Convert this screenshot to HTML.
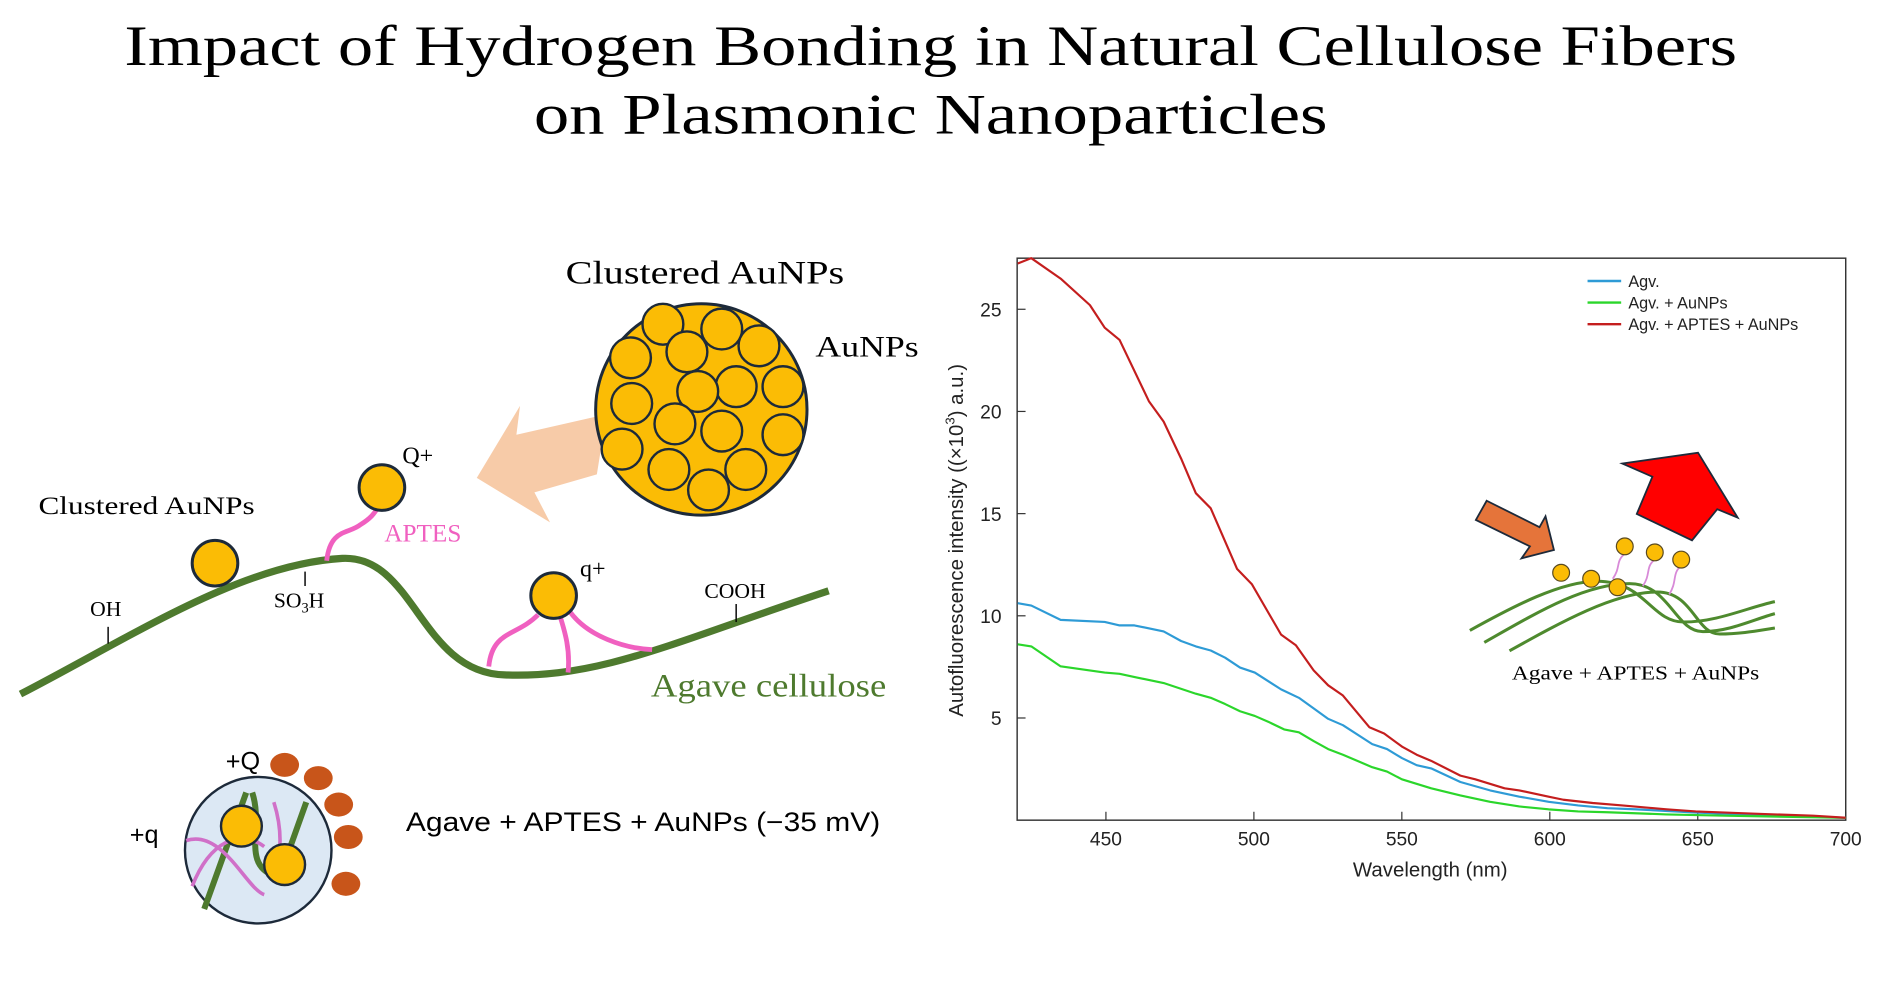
<!DOCTYPE html>
<html><head><meta charset="utf-8"><style>
html,body{margin:0;padding:0;background:#fff;}
svg{display:block;}
.serif{font-family:"Liberation Serif",serif;}
.sans{font-family:"Liberation Sans",sans-serif;}
</style></head><body>
<svg id="root" width="1883" height="983" viewBox="0 0 1568 818.6" xmlns="http://www.w3.org/2000/svg">
<g class="serif" fill="#000" text-anchor="middle">
<text x="775" y="54" font-size="48" textLength="1343" lengthAdjust="spacingAndGlyphs">Impact of Hydrogen Bonding in Natural Cellulose Fibers</text>
<text x="775" y="111" font-size="48" textLength="661" lengthAdjust="spacingAndGlyphs">on Plasmonic Nanoparticles</text>
</g>

<g>
<text x="587" y="236" class="serif" font-size="27" text-anchor="middle" textLength="232" lengthAdjust="spacingAndGlyphs">Clustered AuNPs</text>
<text x="679" y="297" class="serif" font-size="25" textLength="86" lengthAdjust="spacingAndGlyphs">AuNPs</text>
<polygon points="505,345 497,395 445,410 458,435 397,398 433,338 430,362" fill="#F7CBA8"/>
<circle cx="584" cy="341" r="88" fill="#FBBC05" stroke="#1d2a3a" stroke-width="2.5"/>
<g id="cluster" fill="#FBBC05" stroke="#1d2a3a" stroke-width="2"></g>

<path d="M17,578 C110,530 200,470 285,465 C345,462 350,560 420,562 C500,565 560,535 690,492" fill="none" stroke="#4E7A2E" stroke-width="6"/>
<g stroke="#000" stroke-width="1.2">
<line x1="90" y1="522" x2="90" y2="536"/><line x1="254" y1="476" x2="254" y2="488"/><line x1="613" y1="503" x2="613" y2="518"/>
</g>
<g class="serif" font-size="18" fill="#000" text-anchor="middle">
<text x="88" y="513">OH</text>
<text x="249" y="506">SO<tspan font-size="12" dy="4">3</tspan><tspan dy="-4">H</tspan></text>
<text x="612" y="498">COOH</text>
</g>
<text x="32" y="428" class="serif" font-size="21" textLength="180" lengthAdjust="spacingAndGlyphs">Clustered AuNPs</text>
<path d="M272,467 C275,440 290,445 300,437 C308,432 312,428 316,420" fill="none" stroke="#F060C0" stroke-width="4"/>
<path d="M407,555 C410,525 430,530 448,512 M466,512 C470,525 475,540 473,560 M475,510 C490,530 520,540 543,541" fill="none" stroke="#F060C0" stroke-width="4"/>
<circle cx="179" cy="469" r="19" fill="#FBBC05" stroke="#1d2a3a" stroke-width="2.5"/>
<circle cx="318" cy="406" r="19" fill="#FBBC05" stroke="#1d2a3a" stroke-width="2.5"/>
<circle cx="461" cy="496" r="19" fill="#FBBC05" stroke="#1d2a3a" stroke-width="2.5"/>
<text x="335" y="386" class="serif" font-size="20">Q+</text>
<text x="483" y="480" class="serif" font-size="20">q+</text>
<text x="320" y="451" class="serif" font-size="21" fill="#F060C0">APTES</text>
<text x="542" y="580" class="serif" font-size="27" fill="#4E7A2E" textLength="196" lengthAdjust="spacingAndGlyphs">Agave cellulose</text>
</g>

<g>
<circle cx="215" cy="708" r="61" fill="#DCE8F4" stroke="#1d2a3a" stroke-width="2"/>
<path d="M170,757 L205,660 M210,660 C220,690 200,720 230,730 M255,668 L240,710" fill="none" stroke="#4E7A2E" stroke-width="5"/>
<path d="M155,700 C185,690 205,740 220,745 M160,738 C175,700 200,690 220,705 M228,668 C235,690 235,710 228,730" fill="none" stroke="#D070C8" stroke-width="3"/>
<circle cx="201" cy="688" r="17" fill="#FBBC05" stroke="#1d2a3a" stroke-width="2"/>
<circle cx="237" cy="720" r="17" fill="#FBBC05" stroke="#1d2a3a" stroke-width="2"/>
<g fill="#C8551A">
<ellipse cx="237" cy="637" rx="12" ry="10"/><ellipse cx="265" cy="648" rx="12" ry="10"/><ellipse cx="282" cy="670" rx="12" ry="10"/><ellipse cx="290" cy="697" rx="12" ry="10"/><ellipse cx="288" cy="736" rx="12" ry="10"/>
</g>
<text x="188" y="641" class="sans" font-size="21">+Q</text>
<text x="108" y="702" class="sans" font-size="21">+q</text>
<text x="338" y="692" class="sans" font-size="22" textLength="395" lengthAdjust="spacingAndGlyphs">Agave + APTES + AuNPs (−35 mV)</text>
</g>

<g id="chart"></g>

<g>
<polygon points="1238,417 1282,439 1287,430 1294,458 1267,465 1274,455 1229,433" fill="#E5743A" stroke="#1d2a3a" stroke-width="1.5"/>
<polygon points="1351,386 1414,377 1447,431 1430,424 1409,450 1363,428 1376,397" fill="#FF0000" stroke="#1d2a3a" stroke-width="1.5"/>
<g fill="none" stroke="#4E8A2E" stroke-width="2.5">
<path d="M1224,525 C1260,505 1300,484 1330,484 C1370,484 1375,518 1402,518 C1430,518 1455,506 1478,501"/>
<path d="M1236,535 C1280,510 1320,486 1357,486 C1390,486 1395,526 1418,526 C1440,526 1460,516 1478,511"/>
<path d="M1257,542 C1300,518 1345,493 1380,493 C1410,493 1412,528 1432,528 C1450,528 1465,525 1478,523"/>
</g>
<g fill="none" stroke="#D88AD8" stroke-width="1.5">
<path d="M1353,461 C1345,468 1350,472 1343,482"/><path d="M1378,466 C1370,472 1375,478 1368,488"/><path d="M1400,471 C1392,478 1397,484 1390,495"/>
</g>
<g fill="#FBBC05" stroke="#5a4a20" stroke-width="1">
<circle cx="1300" cy="477" r="7"/><circle cx="1325" cy="482" r="7"/><circle cx="1347" cy="489" r="7"/><circle cx="1353" cy="455" r="7"/><circle cx="1378" cy="460" r="7"/><circle cx="1400" cy="466" r="7"/>
</g>
<text x="1362" y="566" class="serif" font-size="17" text-anchor="middle" textLength="206" lengthAdjust="spacingAndGlyphs">Agave + APTES + AuNPs</text>
</g>
</svg>
<script>
const blueNm = [420.2,424.8,434.7,449.6,454.6,459.6,469.5,475.4,480.4,485.4,490.3,495.3,500.3,509.2,515.2,520.2,525.1,530.1,540,545,550,555,559.9,569.8,579.8,589.7,599.6,609.6,619.5,629.4,649.3,669.2,700];
const blueVal = [10.62,10.5,9.8,9.7,9.53,9.53,9.24,8.77,8.5,8.3,7.95,7.47,7.22,6.4,5.99,5.47,4.96,4.65,3.72,3.48,3.04,2.69,2.53,1.87,1.46,1.15,0.9,0.72,0.59,0.53,0.37,0.26,0.12];
const greenNm = [420.2,424.8,434.7,449.6,454.6,460.5,469.5,480.4,485.4,490.3,495.3,500.3,505.2,510.2,515.2,520.2,525.1,530.1,540,545,550,559.9,569.8,579.8,589.7,599.6,609.6,619.5,639.4,659.3,700];
const greenVal = [8.6,8.5,7.53,7.22,7.16,6.98,6.71,6.19,5.99,5.68,5.33,5.1,4.79,4.44,4.3,3.87,3.48,3.2,2.59,2.38,2.0,1.56,1.21,0.9,0.67,0.53,0.43,0.39,0.28,0.22,0.12];
const redNm = [420.2,424.8,434.7,444.6,449.6,454.6,464.5,469.5,475.4,480.4,485.4,494.3,499.3,509.2,514.2,520.2,525.1,530.1,539,544,550,555,559.9,569.8,574.8,584.7,589.7,599.6,604.6,614.5,624.5,639.4,649.3,669.2,689,700];
const redVal = [27.24,27.5,26.5,25.2,24.1,23.5,20.5,19.5,17.7,16.0,15.26,12.3,11.55,9.08,8.56,7.33,6.6,6.1,4.55,4.24,3.6,3.2,2.9,2.18,2.0,1.56,1.46,1.15,1.0,0.84,0.72,0.53,0.43,0.32,0.22,0.12];
const xTicks = [450,500,550,600,650,700];
const yTicks = [5,10,15,20,25];
const seriesNames = ["Agv.","Agv. + AuNPs","Agv. + APTES + AuNPs"];
const seriesColors = ["#2E9BD6","#2BD62B","#C41E1E"];

const NS="http://www.w3.org/2000/svg";
const L=847,R=1537,T=215,B=683,X0=420,X1=700,Y0=0,Y1=27.5;
const sx=v=>L+(v-X0)/(X1-X0)*(R-L);
const sy=v=>B-(v-Y0)/(Y1-Y0)*(B-T);
function mk(tag,attrs,parent){const e=document.createElementNS(NS,tag);for(const k in attrs)e.setAttribute(k,attrs[k]);parent.appendChild(e);return e;}
const chart=document.getElementById('chart');

const frame=mk('rect',{x:L,y:T,width:R-L,height:B-T,fill:'none',stroke:'#333','stroke-width':1.2},chart);



xTicks.forEach(t=>{
  const ln=mk('line',{x1:sx(t),x2:sx(t),y1:B,y2:B-7,stroke:'#333','stroke-width':1},chart);
  
  
  const tx=mk('text',{x:sx(t),y:B+21,'font-size':16,'text-anchor':'middle',class:'sans',fill:'#222'},chart);
  tx.textContent=t;
  
  
});
yTicks.forEach(t=>{
  const ln=mk('line',{x1:L,x2:L+7,y1:sy(t),y2:sy(t),stroke:'#333','stroke-width':1},chart);
  
  
  const tx=mk('text',{x:L-13,y:sy(t)+6,'font-size':16,'text-anchor':'end',class:'sans',fill:'#222'},chart);
  tx.textContent=t;
  
  
});
const xt=mk('text',{x:1191,y:730,'font-size':17,'text-anchor':'middle',class:'sans',fill:'#222'},chart);
xt.textContent='Wavelength (nm)';


const yt=mk('text',{x:0,y:0,'font-size':17,'text-anchor':'middle',class:'sans',fill:'#222',transform:'translate(802,450) rotate(-90)'},chart);
yt.innerHTML='Autofluorescence intensity ((×10<tspan font-size="11" dy="-7">3</tspan><tspan dy="7">) a.u.)</tspan>';



const data=[[blueNm,blueVal],[greenNm,greenVal],[redNm,redVal]];
const snames=['series-agv','series-agv-aunps','series-agv-aptes-aunps'];
data.forEach((d,i)=>{
  const pts=d[0].map((x,j)=>sx(x).toFixed(1)+','+sy(d[1][j]).toFixed(1)).join(' ');
  const pl=mk('polyline',{points:pts,fill:'none',stroke:seriesColors[i],'stroke-width':1.8,'stroke-linejoin':'round'},chart);
  
  
});
seriesNames.forEach((n,i)=>{
  const y=234+i*18;
  const ln=mk('line',{x1:1322,x2:1350,y1:y,y2:y,stroke:seriesColors[i],'stroke-width':2},chart);
  
  
  const tx=mk('text',{x:1356,y:y+5,'font-size':13.5,class:'sans',fill:'#222'},chart);
  tx.textContent=n;
  
  
});

const cl=document.getElementById('cluster');
const cpos=[[552,270],[601,274],[632,288],[525,298],[572,293],[613,322],[652,322],[581,326],[526,336],[562,353],[601,359],[652,362],[518,374],[557,391],[621,391],[590,408]];
cpos.forEach(p=>{
  const c=mk('circle',{cx:p[0],cy:p[1],r:17},cl);
  
  
});
</script>
</body></html>
